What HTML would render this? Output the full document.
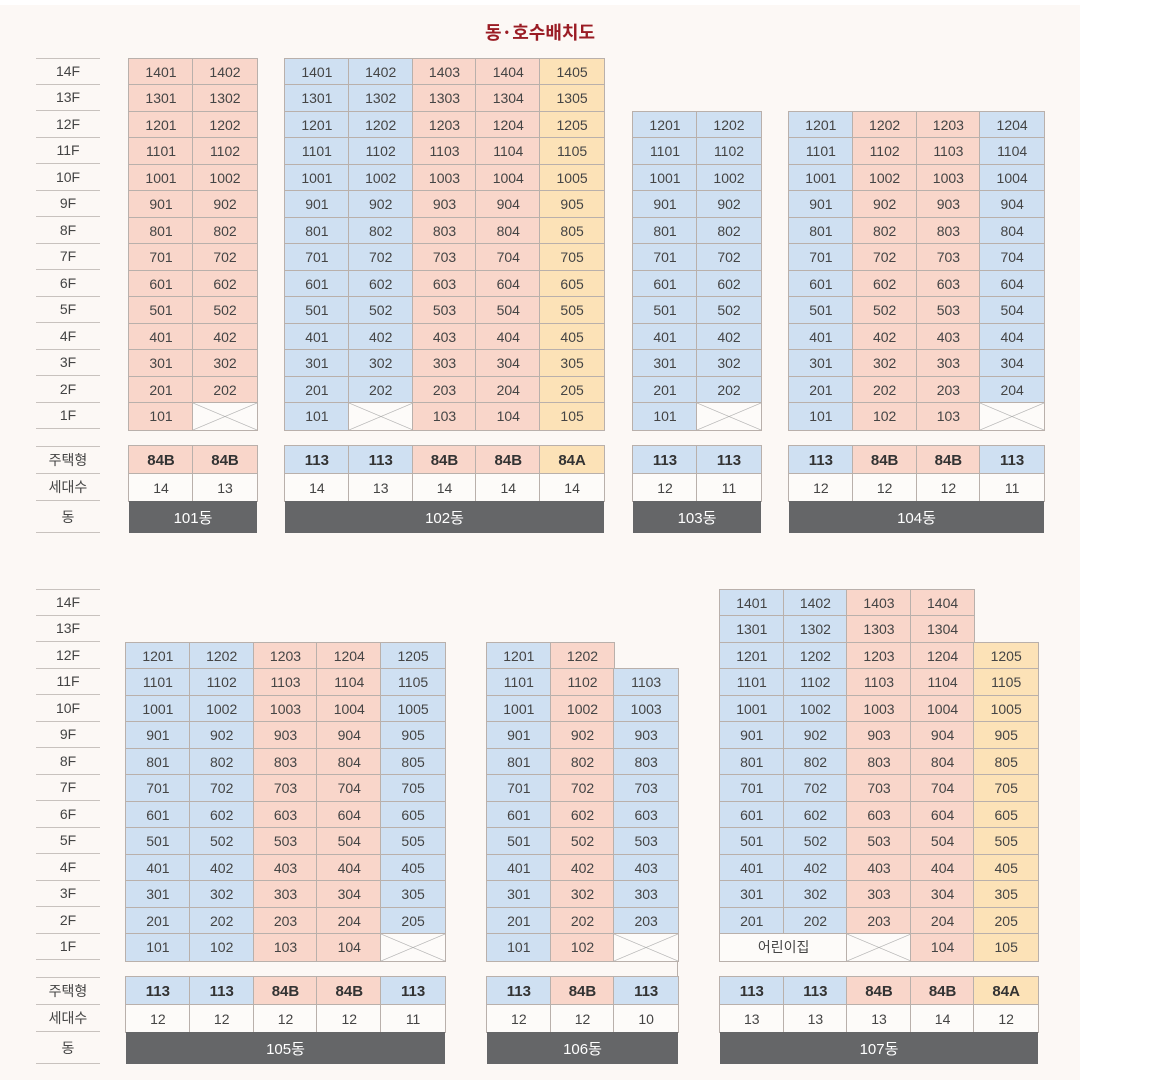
<!DOCTYPE html>
<html><head><meta charset="utf-8"><style>
*{box-sizing:border-box;margin:0;padding:0}
body{width:1170px;height:1080px;background:#fff;font-family:"Liberation Sans","Noto Sans CJK KR",sans-serif;position:relative;overflow:hidden}
#bg{position:absolute;left:0;top:5px;width:1080px;height:1075px;background:#fcf8f5}
h1{position:absolute;left:0;width:1080px;top:19px;text-align:center;font-size:18px;color:#9a1c24;font-weight:bold;font-family:"Noto Sans CJK KR",sans-serif}
.g{position:absolute;display:grid;grid-auto-rows:26.5px}
.g div{display:flex;align-items:center;justify-content:center;font-size:14px;color:#444;outline:1px solid #b9b0ab;outline-offset:-.5px}
.p{background:#f9d6ca}.b{background:#cfe0f2}.y{background:#fce2b7}.w{background:#fdfbf9}
.g div.e{outline:none;background:none}
.x{background:#fdfbf9;background-image:linear-gradient(to top right,transparent calc(50% - .6px),#aaa,transparent calc(50% + .6px)),linear-gradient(to bottom right,transparent calc(50% - .6px),#aaa,transparent calc(50% + .6px))}
.t{grid-auto-rows:28px}.t div{font-weight:bold;font-size:15px;color:#333}
.c{grid-auto-rows:27px}
.d{grid-auto-rows:32px}.d div{background:#656668;color:#fff;font-size:15px;outline:none}
.lab{position:absolute;left:36px;width:64px}
.lab div{height:26.5px;border-bottom:1px solid #c8c2be;display:flex;align-items:center;justify-content:center;font-size:14px;color:#444}
.lab div:first-child{border-top:1px solid #c8c2be}
.lab2 div{font-family:"Noto Sans CJK KR",sans-serif}
</style></head><body>
<div id="bg"></div>
<h1>동·호수배치도</h1>

<div class="lab" style="top:58px"><div>14F</div><div>13F</div><div>12F</div><div>11F</div><div>10F</div><div>9F</div><div>8F</div><div>7F</div><div>6F</div><div>5F</div><div>4F</div><div>3F</div><div>2F</div><div>1F</div></div>
<div class="lab lab2" style="top:446px"><div style="height:28px">주택형</div><div style="height:27px">세대수</div><div style="height:32px">동</div></div>
<div class="lab" style="top:589px"><div>14F</div><div>13F</div><div>12F</div><div>11F</div><div>10F</div><div>9F</div><div>8F</div><div>7F</div><div>6F</div><div>5F</div><div>4F</div><div>3F</div><div>2F</div><div>1F</div></div>
<div class="lab lab2" style="top:977px"><div style="height:28px">주택형</div><div style="height:27px">세대수</div><div style="height:32px">동</div></div>

<!-- 101 -->
<div class="g" style="left:129px;top:58.5px;width:128px;grid-template-columns:1fr 1fr">
<div class="p">1401</div><div class="p">1402</div><div class="p">1301</div><div class="p">1302</div><div class="p">1201</div><div class="p">1202</div><div class="p">1101</div><div class="p">1102</div><div class="p">1001</div><div class="p">1002</div><div class="p">901</div><div class="p">902</div><div class="p">801</div><div class="p">802</div><div class="p">701</div><div class="p">702</div><div class="p">601</div><div class="p">602</div><div class="p">501</div><div class="p">502</div><div class="p">401</div><div class="p">402</div><div class="p">301</div><div class="p">302</div><div class="p">201</div><div class="p">202</div><div class="p">101</div><div class="x"></div>
</div>
<div class="g t" style="left:129px;top:446px;width:128px;grid-template-columns:1fr 1fr"><div class="p">84B</div><div class="p">84B</div></div>
<div class="g c" style="left:129px;top:474px;width:128px;grid-template-columns:1fr 1fr"><div class="w">14</div><div class="w">13</div></div>
<div class="g d" style="left:129px;top:501px;width:128px;grid-template-columns:1fr"><div>101동</div></div>

<!-- 102 -->
<div class="g" style="left:285px;top:58.5px;width:319px;grid-template-columns:repeat(5,1fr)">
<div class="b">1401</div><div class="b">1402</div><div class="p">1403</div><div class="p">1404</div><div class="y">1405</div>
<div class="b">1301</div><div class="b">1302</div><div class="p">1303</div><div class="p">1304</div><div class="y">1305</div>
<div class="b">1201</div><div class="b">1202</div><div class="p">1203</div><div class="p">1204</div><div class="y">1205</div>
<div class="b">1101</div><div class="b">1102</div><div class="p">1103</div><div class="p">1104</div><div class="y">1105</div>
<div class="b">1001</div><div class="b">1002</div><div class="p">1003</div><div class="p">1004</div><div class="y">1005</div>
<div class="b">901</div><div class="b">902</div><div class="p">903</div><div class="p">904</div><div class="y">905</div>
<div class="b">801</div><div class="b">802</div><div class="p">803</div><div class="p">804</div><div class="y">805</div>
<div class="b">701</div><div class="b">702</div><div class="p">703</div><div class="p">704</div><div class="y">705</div>
<div class="b">601</div><div class="b">602</div><div class="p">603</div><div class="p">604</div><div class="y">605</div>
<div class="b">501</div><div class="b">502</div><div class="p">503</div><div class="p">504</div><div class="y">505</div>
<div class="b">401</div><div class="b">402</div><div class="p">403</div><div class="p">404</div><div class="y">405</div>
<div class="b">301</div><div class="b">302</div><div class="p">303</div><div class="p">304</div><div class="y">305</div>
<div class="b">201</div><div class="b">202</div><div class="p">203</div><div class="p">204</div><div class="y">205</div>
<div class="b">101</div><div class="x"></div><div class="p">103</div><div class="p">104</div><div class="y">105</div>
</div>
<div class="g t" style="left:285px;top:446px;width:319px;grid-template-columns:repeat(5,1fr)"><div class="b">113</div><div class="b">113</div><div class="p">84B</div><div class="p">84B</div><div class="y">84A</div></div>
<div class="g c" style="left:285px;top:474px;width:319px;grid-template-columns:repeat(5,1fr)"><div class="w">14</div><div class="w">13</div><div class="w">14</div><div class="w">14</div><div class="w">14</div></div>
<div class="g d" style="left:285px;top:501px;width:319px;grid-template-columns:1fr"><div>102동</div></div>

<!-- 103 -->
<div class="g" style="left:633px;top:111.5px;width:128px;grid-template-columns:1fr 1fr">
<div class="b">1201</div><div class="b">1202</div><div class="b">1101</div><div class="b">1102</div><div class="b">1001</div><div class="b">1002</div><div class="b">901</div><div class="b">902</div><div class="b">801</div><div class="b">802</div><div class="b">701</div><div class="b">702</div><div class="b">601</div><div class="b">602</div><div class="b">501</div><div class="b">502</div><div class="b">401</div><div class="b">402</div><div class="b">301</div><div class="b">302</div><div class="b">201</div><div class="b">202</div><div class="b">101</div><div class="x"></div>
</div>
<div class="g t" style="left:633px;top:446px;width:128px;grid-template-columns:1fr 1fr"><div class="b">113</div><div class="b">113</div></div>
<div class="g c" style="left:633px;top:474px;width:128px;grid-template-columns:1fr 1fr"><div class="w">12</div><div class="w">11</div></div>
<div class="g d" style="left:633px;top:501px;width:128px;grid-template-columns:1fr"><div>103동</div></div>

<!-- 104 -->
<div class="g" style="left:789px;top:111.5px;width:255px;grid-template-columns:repeat(4,1fr)">
<div class="b">1201</div><div class="p">1202</div><div class="p">1203</div><div class="b">1204</div>
<div class="b">1101</div><div class="p">1102</div><div class="p">1103</div><div class="b">1104</div>
<div class="b">1001</div><div class="p">1002</div><div class="p">1003</div><div class="b">1004</div>
<div class="b">901</div><div class="p">902</div><div class="p">903</div><div class="b">904</div>
<div class="b">801</div><div class="p">802</div><div class="p">803</div><div class="b">804</div>
<div class="b">701</div><div class="p">702</div><div class="p">703</div><div class="b">704</div>
<div class="b">601</div><div class="p">602</div><div class="p">603</div><div class="b">604</div>
<div class="b">501</div><div class="p">502</div><div class="p">503</div><div class="b">504</div>
<div class="b">401</div><div class="p">402</div><div class="p">403</div><div class="b">404</div>
<div class="b">301</div><div class="p">302</div><div class="p">303</div><div class="b">304</div>
<div class="b">201</div><div class="p">202</div><div class="p">203</div><div class="b">204</div>
<div class="b">101</div><div class="p">102</div><div class="p">103</div><div class="x"></div>
</div>
<div class="g t" style="left:789px;top:446px;width:255px;grid-template-columns:repeat(4,1fr)"><div class="b">113</div><div class="p">84B</div><div class="p">84B</div><div class="b">113</div></div>
<div class="g c" style="left:789px;top:474px;width:255px;grid-template-columns:repeat(4,1fr)"><div class="w">12</div><div class="w">12</div><div class="w">12</div><div class="w">11</div></div>
<div class="g d" style="left:789px;top:501px;width:255px;grid-template-columns:1fr"><div>104동</div></div>

<!-- 105 -->
<div class="g" style="left:126px;top:642.5px;width:319px;grid-template-columns:repeat(5,1fr)">
<div class="b">1201</div><div class="b">1202</div><div class="p">1203</div><div class="p">1204</div><div class="b">1205</div>
<div class="b">1101</div><div class="b">1102</div><div class="p">1103</div><div class="p">1104</div><div class="b">1105</div>
<div class="b">1001</div><div class="b">1002</div><div class="p">1003</div><div class="p">1004</div><div class="b">1005</div>
<div class="b">901</div><div class="b">902</div><div class="p">903</div><div class="p">904</div><div class="b">905</div>
<div class="b">801</div><div class="b">802</div><div class="p">803</div><div class="p">804</div><div class="b">805</div>
<div class="b">701</div><div class="b">702</div><div class="p">703</div><div class="p">704</div><div class="b">705</div>
<div class="b">601</div><div class="b">602</div><div class="p">603</div><div class="p">604</div><div class="b">605</div>
<div class="b">501</div><div class="b">502</div><div class="p">503</div><div class="p">504</div><div class="b">505</div>
<div class="b">401</div><div class="b">402</div><div class="p">403</div><div class="p">404</div><div class="b">405</div>
<div class="b">301</div><div class="b">302</div><div class="p">303</div><div class="p">304</div><div class="b">305</div>
<div class="b">201</div><div class="b">202</div><div class="p">203</div><div class="p">204</div><div class="b">205</div>
<div class="b">101</div><div class="b">102</div><div class="p">103</div><div class="p">104</div><div class="x"></div>
</div>
<div class="g t" style="left:126px;top:977px;width:319px;grid-template-columns:repeat(5,1fr)"><div class="b">113</div><div class="b">113</div><div class="p">84B</div><div class="p">84B</div><div class="b">113</div></div>
<div class="g c" style="left:126px;top:1005px;width:319px;grid-template-columns:repeat(5,1fr)"><div class="w">12</div><div class="w">12</div><div class="w">12</div><div class="w">12</div><div class="w">11</div></div>
<div class="g d" style="left:126px;top:1032px;width:319px;grid-template-columns:1fr"><div>105동</div></div>

<!-- 106 -->
<div style="position:absolute;left:677px;top:960px;width:1px;height:17px;background:#b9b0ab"></div>
<div class="g" style="left:487px;top:642.5px;width:191px;grid-template-columns:repeat(3,1fr)">
<div class="b">1201</div><div class="p">1202</div><div class="e"></div>
<div class="b">1101</div><div class="p">1102</div><div class="b">1103</div>
<div class="b">1001</div><div class="p">1002</div><div class="b">1003</div>
<div class="b">901</div><div class="p">902</div><div class="b">903</div>
<div class="b">801</div><div class="p">802</div><div class="b">803</div>
<div class="b">701</div><div class="p">702</div><div class="b">703</div>
<div class="b">601</div><div class="p">602</div><div class="b">603</div>
<div class="b">501</div><div class="p">502</div><div class="b">503</div>
<div class="b">401</div><div class="p">402</div><div class="b">403</div>
<div class="b">301</div><div class="p">302</div><div class="b">303</div>
<div class="b">201</div><div class="p">202</div><div class="b">203</div>
<div class="b">101</div><div class="p">102</div><div class="x"></div>
</div>
<div class="g t" style="left:487px;top:977px;width:191px;grid-template-columns:repeat(3,1fr)"><div class="b">113</div><div class="p">84B</div><div class="b">113</div></div>
<div class="g c" style="left:487px;top:1005px;width:191px;grid-template-columns:repeat(3,1fr)"><div class="w">12</div><div class="w">12</div><div class="w">10</div></div>
<div class="g d" style="left:487px;top:1032px;width:191px;grid-template-columns:1fr"><div>106동</div></div>

<!-- 107 -->
<div class="g" style="left:720px;top:589.5px;width:318px;grid-template-columns:repeat(5,1fr)">
<div class="b">1401</div><div class="b">1402</div><div class="p">1403</div><div class="p">1404</div><div class="e"></div>
<div class="b">1301</div><div class="b">1302</div><div class="p">1303</div><div class="p">1304</div><div class="e"></div>
<div class="b">1201</div><div class="b">1202</div><div class="p">1203</div><div class="p">1204</div><div class="y">1205</div>
<div class="b">1101</div><div class="b">1102</div><div class="p">1103</div><div class="p">1104</div><div class="y">1105</div>
<div class="b">1001</div><div class="b">1002</div><div class="p">1003</div><div class="p">1004</div><div class="y">1005</div>
<div class="b">901</div><div class="b">902</div><div class="p">903</div><div class="p">904</div><div class="y">905</div>
<div class="b">801</div><div class="b">802</div><div class="p">803</div><div class="p">804</div><div class="y">805</div>
<div class="b">701</div><div class="b">702</div><div class="p">703</div><div class="p">704</div><div class="y">705</div>
<div class="b">601</div><div class="b">602</div><div class="p">603</div><div class="p">604</div><div class="y">605</div>
<div class="b">501</div><div class="b">502</div><div class="p">503</div><div class="p">504</div><div class="y">505</div>
<div class="b">401</div><div class="b">402</div><div class="p">403</div><div class="p">404</div><div class="y">405</div>
<div class="b">301</div><div class="b">302</div><div class="p">303</div><div class="p">304</div><div class="y">305</div>
<div class="b">201</div><div class="b">202</div><div class="p">203</div><div class="p">204</div><div class="y">205</div>
<div class="w" style="grid-column:span 2">어린이집</div><div class="x"></div><div class="p">104</div><div class="y">105</div>
</div>
<div class="g t" style="left:720px;top:977px;width:318px;grid-template-columns:repeat(5,1fr)"><div class="b">113</div><div class="b">113</div><div class="p">84B</div><div class="p">84B</div><div class="y">84A</div></div>
<div class="g c" style="left:720px;top:1005px;width:318px;grid-template-columns:repeat(5,1fr)"><div class="w">13</div><div class="w">13</div><div class="w">13</div><div class="w">14</div><div class="w">12</div></div>
<div class="g d" style="left:720px;top:1032px;width:318px;grid-template-columns:1fr"><div>107동</div></div>
</body></html>
